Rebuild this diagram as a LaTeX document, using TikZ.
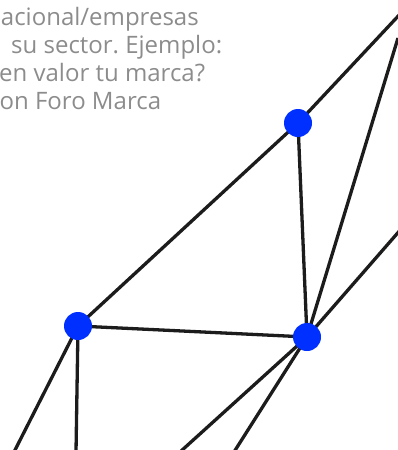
\documentclass[tikz,border=0pt]{standalone}
\usepackage{fontspec}
\setmainfont{Open Sans}
\usetikzlibrary{backgrounds}
\definecolor{hubblue}{HTML}{0030FF}
\definecolor{edgeblack}{HTML}{1C1C1C}
\definecolor{textgray}{HTML}{8C8C8C}
\frenchspacing

\begin{document}
\begin{tikzpicture}[x=1pt,y=-1pt,
		edge/.style={line width=3.3pt,draw=edgeblack},
		hub/.style={circle,fill=hubblue,minimum size=28pt,inner sep=0pt},
		blurb/.style={anchor=base west,inner sep=0pt,text=textgray,font=\fontsize{24}{28}\selectfont}]
		\useasboundingbox (0,0) rectangle (397,450);
		% text block, cut at the left border
		\node[blurb] (l1) at (-14,25) {nacional/empresas};
		\node[blurb] (l2) at (11,53) {su sector. Ejemplo:};
		\node[blurb] (l3) at (-1,81) {en valor tu marca?};
		\node[blurb] (l4) at (-12,109) {con Foro Marca};
		% hubs
		\node[hub] (a) at (298,123) {};
		\node[hub] (b) at (78,326) {};
		\node[hub] (c) at (307,337) {};
		% free ends outside the page
		\coordinate (ne) at (402,12);
		\coordinate (re) at (398,38);
		\coordinate (rm) at (402,228);
		\coordinate (s1) at (180,452);
		\coordinate (s2) at (234,452);
		\coordinate (s3) at (76,452);
		\coordinate (s4) at (14,452);
		\begin{scope}[on background layer]
			\draw[edge] (ne) -- (a.center) -- (b.center) -- (c.center) -- (a.center);
			\draw[edge] (re) -- (c.center) -- (rm);
			\draw[edge] (c.center) -- (s1);
			\draw[edge] (c.center) -- (s2);
			\draw[edge] (s3) -- (b.center) -- (s4);
		\end{scope}
	\end{tikzpicture}
\end{document}
